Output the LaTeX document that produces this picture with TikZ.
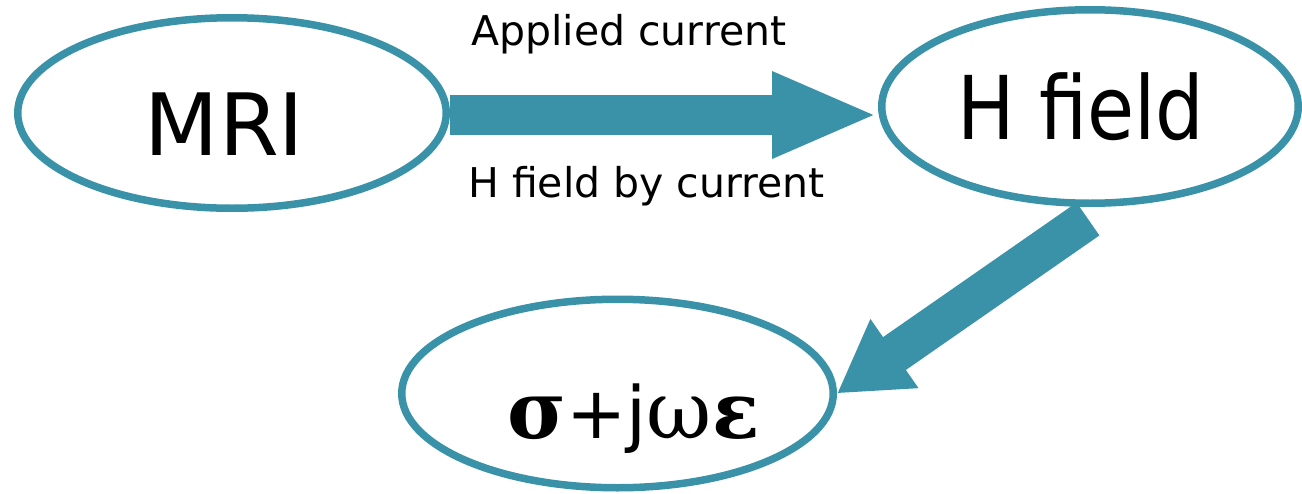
\documentclass[tikz,border=0pt]{standalone}
\usepackage{fontspec}
\setmainfont{DejaVu Sans}
\newfontfamily\labelfont{DejaVu Sans}
\newfontfamily\widefont{DejaVu Sans}[FakeStretch=0.87]
\newfontfamily\greekfont{DejaVu Serif}
\usetikzlibrary{shapes.geometric,arrows.meta,calc}
\definecolor{teal}{RGB}{58,146,168}
\tikzset{
  bubble/.style={ellipse, draw=teal, line width=7.5pt, fill=white, inner sep=0pt},
  bigarrow/.style={draw=teal, line width=40pt, -{Triangle[length=#1, width=79pt]}},
  edgelabel/.style={font=\labelfont\fontsize{41}{41}\selectfont, inner sep=0pt, anchor=base west},
  bigtext/.style={inner sep=0pt, anchor=base}
}
\begin{document}
\begin{tikzpicture}[x=1pt,y=-1pt]
\useasboundingbox (0,0) rectangle (1302,493);

% three states
\node[bubble, minimum width=428.5pt, minimum height=190.5pt] (mri) at (232,113) {};
\node[bubble, minimum width=416.5pt, minimum height=193.5pt] (hf) at (1090,106.5) {};
\node[bubble, minimum width=431.5pt, minimum height=188.5pt] (sig) at (617.5,393.5) {};

% their texts
\node[bigtext, font=\labelfont\fontsize{86}{86}\selectfont] (mritxt) at (224.5,155) {MRI};
\node[bigtext, font=\widefont\fontsize{88}{88}\selectfont] (hftxt) at (1081,139) {H field};
\node[bigtext] (sigtxt) at (633.5,438)
  {{\greekfont\bfseries\fontsize{80}{80}\selectfont σ}{\labelfont\fontsize{72}{72}\selectfont +j}{\greekfont\fontsize{80}{80}\selectfont ω}{\greekfont\bfseries\fontsize{78}{78}\selectfont ε}};

% connectors
\coordinate (start) at ($(mri.east)+(0,2)$);
\coordinate (tail) at ($(hf.south)+(-2,12)$);
\draw[bigarrow=106pt] (start) -- (start -| hf.west);
\draw[bigarrow=70pt] (tail) -- (sig.east);

% labels of the horizontal connector
\node[edgelabel] (lab1) at (471,45) {Applied current};
\node[edgelabel] (lab2) at (468,197) {H field by current};
\end{tikzpicture}
\end{document}
